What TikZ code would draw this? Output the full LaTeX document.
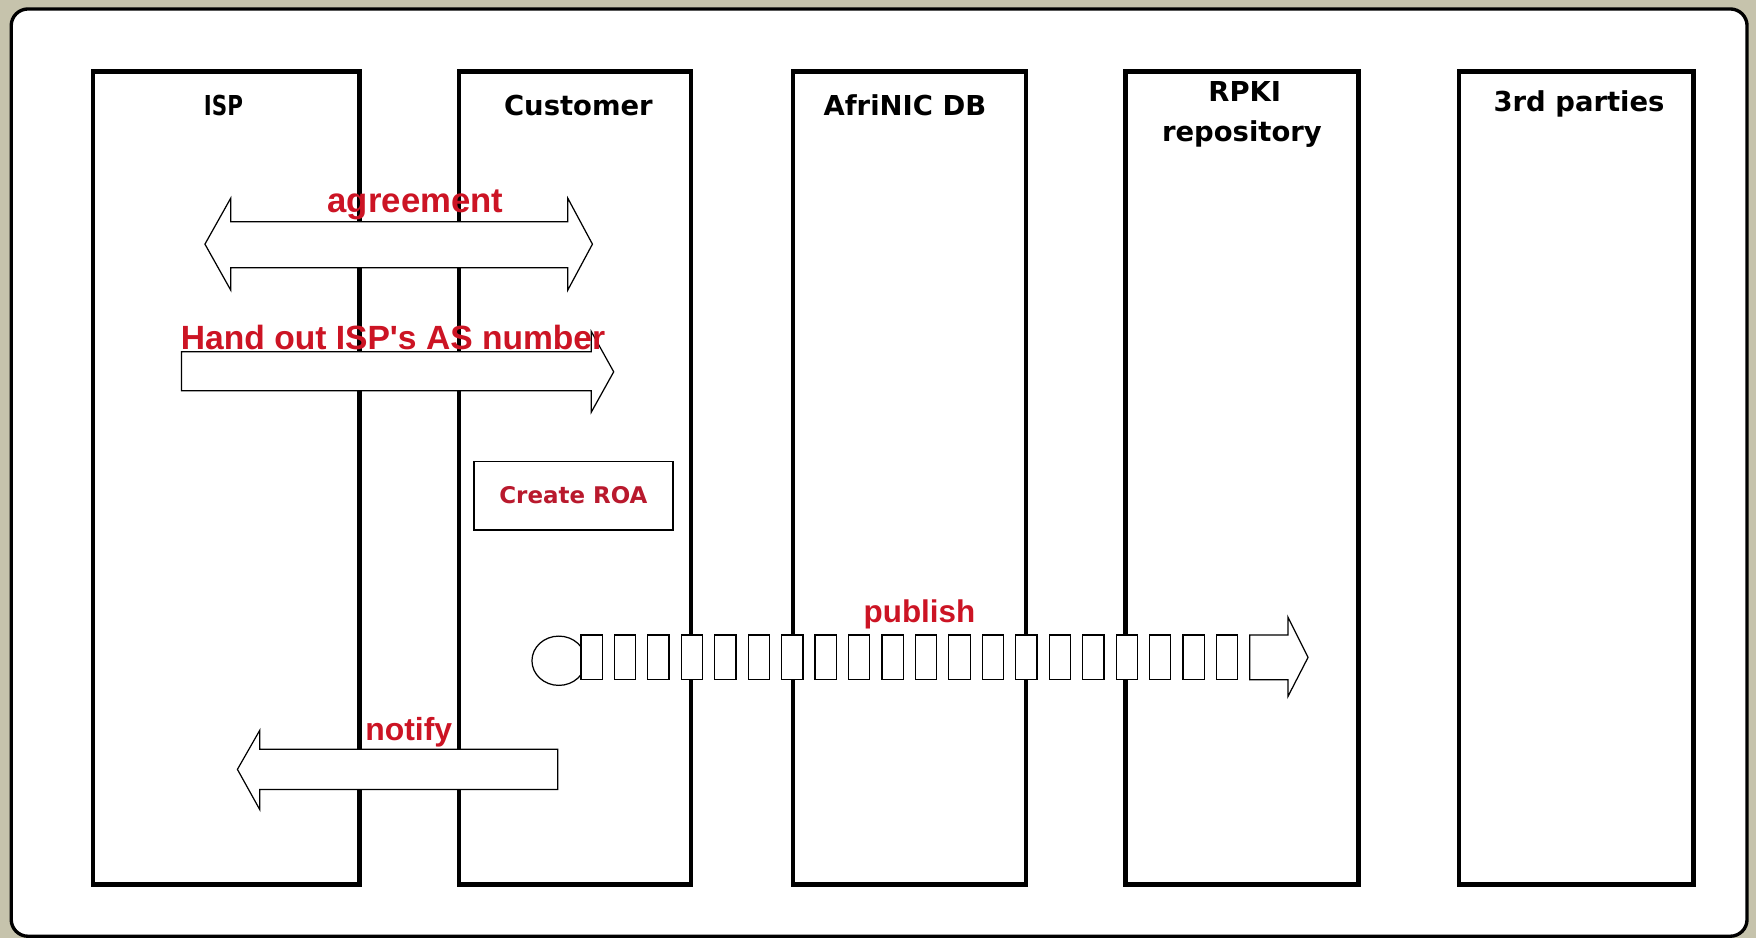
\documentclass[tikz,border=0pt]{standalone}
\usepackage{fontspec}
\newfontfamily\labfont{Liberation Sans}
\newfontfamily\ttlfont{DejaVu Sans}
\definecolor{bgc}{RGB}{198,195,172}
\definecolor{labred}{RGB}{204,20,36}
\definecolor{roared}{RGB}{185,25,45}
\tikzset{
  colbox/.style={draw, line width=4pt, minimum height=726pt, inner sep=0pt},
  ttl/.style={font=\ttlfont\bfseries\fontsize{24.5}{29}\selectfont, inner sep=0pt, anchor=base},
  lab/.style={font=\labfont\bfseries\fontsize{#1}{#1}\selectfont, text=labred, inner sep=0pt, anchor=base},
  arr/.style={draw, fill=white, line width=1.1pt, line join=miter},
  roabox/.style={draw, line width=1.5pt, minimum width=178pt, minimum height=61pt, inner sep=0pt,
    text=roared, font=\ttlfont\bfseries\fontsize{20.5}{23}\selectfont}
}
\begin{document}
\begin{tikzpicture}[x=1pt,y=-1pt]
\fill[bgc] (0,0) rectangle (1568,838);
\useasboundingbox (0,0) rectangle (1568,838);
\draw[line width=3pt, fill=white, rounded corners=15pt] (10,8) rectangle (1560,836);
% columns
\node[colbox, minimum width=238pt] (isp) at (202,427) {};
\node[colbox, minimum width=207pt] (cust) at (513.5,427) {};
\node[colbox, minimum width=208pt] (afr) at (812,427) {};
\node[colbox, minimum width=208pt] (rpki) at (1109,427) {};
\node[colbox, minimum width=209pt] (third) at (1407.5,427) {};
% titles
\node[ttl, xscale=0.78] (tisp) at (199.5,103) {ISP};
\node[ttl] (tcust) at (516.5,103) {Customer};
\node[ttl] (tafr) at (808,103) {AfriNIC DB};
\node[ttl] (trpki) at (1111.5,91) {RPKI};
\node[ttl] (trepo) at (1109,126) {repository};
\node[ttl] (tthird) at (1410,100) {3rd parties};
% agreement double arrow
\draw[arr] (183,218) -- (206,177) -- (206,198) -- (507,198) -- (507,177) -- (529,218)
  -- (507,259) -- (507,239) -- (206,239) -- (206,259) -- cycle;
% hand out arrow
\draw[arr] (162,314) -- (528,314) -- (528,296) -- (548,332) -- (528,368) -- (528,349)
  -- (162,349) -- cycle;
% create ROA
\node[roabox] (roa) at (512,442.5) {Create ROA};
% publish arrow
\draw[arr] (499,590) ellipse [x radius=24, y radius=22];
\foreach \i in {0,...,19} {
  \draw[arr] ({518.7+29.87*\i},567) rectangle +(19,40);
}
\draw[arr] (1116,567) -- (1150,567) -- (1150,551) -- (1168,587) -- (1150,622) -- (1150,607)
  -- (1116,607) -- cycle;
% notify arrow
\draw[arr] (212,687) -- (232,652) -- (232,669) -- (498,669) -- (498,705) -- (232,705)
  -- (232,723) -- cycle;
% labels
\node[lab=31] (lagree) at (371,190) {agreement};
\node[lab=30] (lhand) at (351,312) {Hand out ISP's AS number};
\node[lab=28] (lpub) at (821,556) {publish};
\node[lab=28.5] (lnot) at (365,661) {notify};
\end{tikzpicture}
\end{document}
